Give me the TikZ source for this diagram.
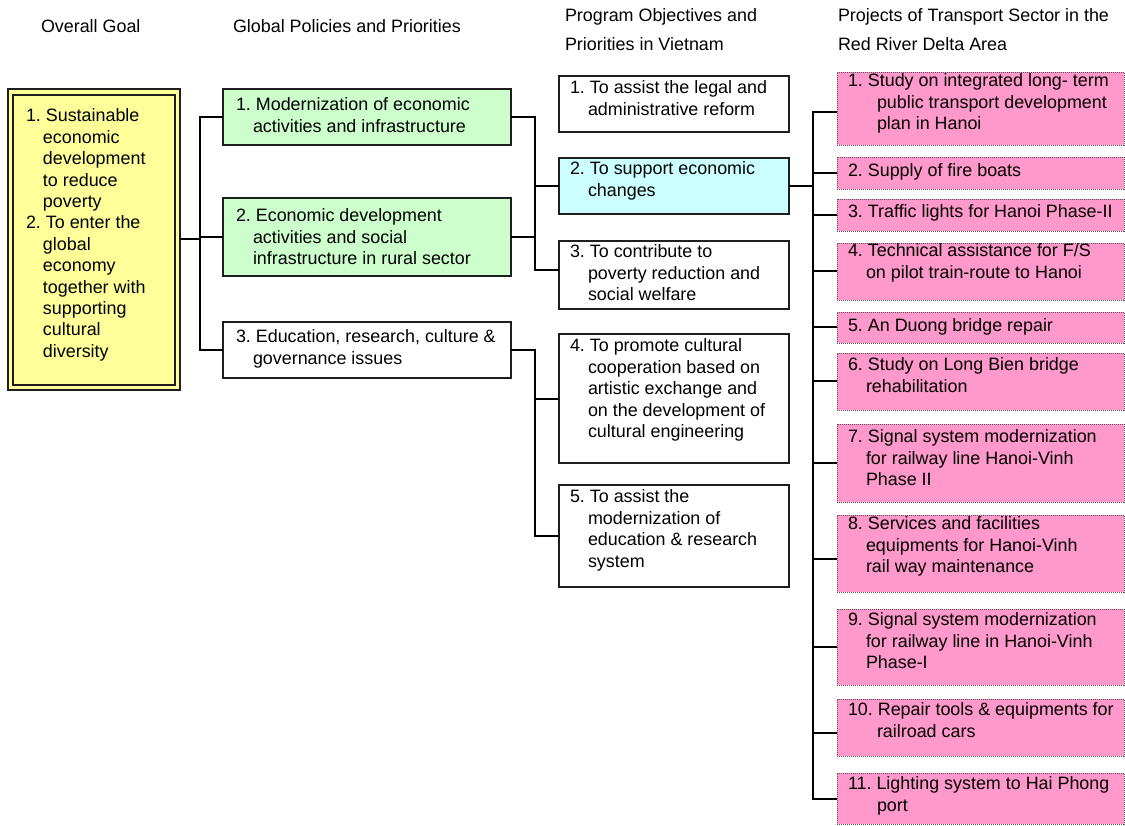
\documentclass[tikz,border=0pt]{standalone}
\usepackage{fontspec}
\setmainfont{Liberation Sans}
\usetikzlibrary{fit}
\definecolor{goalyellow}{RGB}{255,255,153}
\definecolor{polgreen}{RGB}{204,255,204}
\definecolor{objcyan}{RGB}{204,255,255}
\definecolor{projpink}{RGB}{255,153,204}
\definecolor{edgegray}{RGB}{30,30,30}
\definecolor{dotgray}{RGB}{90,80,90}
% hanging indents for continuation lines
\newcommand\indA{\hspace*{17pt}}
\newcommand\indB{\hspace*{18pt}}
\newcommand\indC{\hspace*{29pt}}

\begin{document}
\frenchspacing
\begin{tikzpicture}[x=1pt,y=-1pt,
  every node/.style={inner sep=0pt, outer sep=0pt},
  frame/.style={draw=edgegray, line width=1.3pt},
  policy/.style={frame, fill=polgreen},
  plain/.style={frame, fill=white},
  focus/.style={frame, fill=objcyan},
  project/.style={draw=dotgray, line width=0.8pt, dash pattern=on 1pt off 1pt, fill=projpink},
  txt/.style={anchor=north west, align=left, text=black,
    font=\fontsize{17.9}{21.4}\selectfont\frenchspacing, execute at begin node=\strut},
  conn/.style={draw=black, line width=2pt},
]
\useasboundingbox (0,0) rectangle (1125,826);

% column headings
\node[txt] (h1) at (41,18) {Overall Goal};
\node[txt] (h2) at (233,18) {Global Policies and Priorities};
\node[txt] (h3) at (565,9) {Program Objectives and\\[7.6pt]Priorities in Vietnam};
\node[txt] (h4) at (838,9) {Projects of Transport Sector in the\\[7.6pt]Red River Delta Area};

% overall goal (double frame)
\node[fit={(8,89)(180,390)}, fill=goalyellow, draw=edgegray, line width=2.8pt] (goal) {};
\node[fit={(13,95)(175,385)}, draw=edgegray, line width=1.8pt] (goalin) {};
\node[txt] (goalt) at (26,109) {1. Sustainable\\\indA economic\\\indA development\\\indA to reduce\\\indA poverty\\2. To enter the\\\indA global\\\indA economy\\\indA together with\\\indA supporting\\\indA cultural\\\indA diversity};

% global policies
\node[policy, fit={(223,89)(511,145)}] (g1) {};
\node[policy, fit={(223,198)(511,276)}] (g2) {};
\node[plain, fit={(223,322)(511,378)}] (g3) {};
\node[txt] (g1t) at (236,98) {1. Modernization of economic\\\indA activities and infrastructure};
\node[txt] (g2t) at (236,209) {2. Economic development\\\indA activities and social\\\indA infrastructure in rural sector};
\node[txt] (g3t) at (236,330) {3. Education, research, culture \&\\\indA governance issues};

% program objectives
\node[plain, fit={(559,76)(789,132)}] (o1) {};
\node[focus, fit={(559,158)(789,214)}] (o2) {};
\node[plain, fit={(559,241)(789,309)}] (o3) {};
\node[plain, fit={(559,334)(789,463)}] (o4) {};
\node[plain, fit={(559,485)(789,587)}] (o5) {};
\node[txt] (o1t) at (570,81) {1. To assist the legal and\\\indB administrative reform};
\node[txt] (o2t) at (570,162) {2. To support economic\\\indB changes};
\node[txt] (o3t) at (570,245) {3. To contribute to\\\indB poverty reduction and\\\indB social welfare};
\node[txt] (o4t) at (570,339) {4. To promote cultural\\\indB cooperation based on\\\indB artistic exchange and\\\indB on the development of\\\indB cultural engineering};
\node[txt] (o5t) at (570,490) {5. To assist the\\\indB modernization of\\\indB education \& research\\\indB system};

% transport projects
\node[project, fit={(837,72)(1124,145)}] (p1) {};
\node[project, fit={(837,157)(1124,189)}] (p2) {};
\node[project, fit={(837,199)(1124,231)}] (p3) {};
\node[project, fit={(837,243)(1124,300)}] (p4) {};
\node[project, fit={(837,312)(1124,343)}] (p5) {};
\node[project, fit={(837,353)(1124,410)}] (p6) {};
\node[project, fit={(837,424)(1124,502)}] (p7) {};
\node[project, fit={(837,515)(1124,592)}] (p8) {};
\node[project, fit={(837,609)(1124,685)}] (p9) {};
\node[project, fit={(837,699)(1124,756)}] (p10) {};
\node[project, fit={(837,773)(1124,824)}] (p11) {};
\node[txt] (p1t) at (848,74) {1. Study on integrated long- term\\\indC public transport development\\\indC plan in Hanoi};
\node[txt] (p2t) at (848,162) {2. Supply of fire boats};
\node[txt] (p3t) at (848,203) {3. Traffic lights for Hanoi Phase-II};
\node[txt] (p4t) at (848,244) {4. Technical assistance for F/S\\\indB on pilot train-route to Hanoi};
\node[txt] (p5t) at (848,317) {5. An Duong bridge repair};
\node[txt] (p6t) at (848,358) {6. Study on Long Bien bridge\\\indB rehabilitation};
\node[txt] (p7t) at (848,430) {7. Signal system modernization\\\indB for railway line Hanoi-Vinh\\\indB Phase II};
\node[txt] (p8t) at (848,517) {8. Services and facilities\\\indB equipments for Hanoi-Vinh\\\indB rail way maintenance};
\node[txt] (p9t) at (848,613) {9. Signal system modernization\\\indB for railway line in Hanoi-Vinh\\\indB Phase-I};
\node[txt] (p10t) at (848,703) {10. Repair tools \& equipments for\\\indC railroad cars};
\node[txt] (p11t) at (848,777) {11. Lighting system to Hai Phong\\\indC port};

% bus lines
\coordinate (bus1) at (200,0);
\coordinate (bus2) at (535,0);
\coordinate (bus3) at (813,0);
\coordinate (o3in) at ([yshift=5pt]o3.west);
\coordinate (p1in) at ([yshift=-4pt]p1.west);
\coordinate (p8in) at ([yshift=-5pt]p8.west);
\coordinate (p10in) at ([yshift=-5pt]p10.west);

% goal -> policies
\draw[conn] (goal.east) -- (goal.east -| bus1);
\draw[conn] (g1.west) -- (g1.west -| bus1) -- (g3.west -| bus1) -- (g3.west);
\draw[conn] (g2.west) -- (g2.west -| bus1);

% policies -> objectives
\draw[conn] (g1.east) -- (g1.east -| bus2) -- (o3in -| bus2) -- (o3in);
\draw[conn] (g2.east) -- (g2.east -| bus2);
\draw[conn] (o2.west) -- (o2.west -| bus2);
\draw[conn] (g3.east) -- (g3.east -| bus2) -- (o5.west -| bus2) -- (o5.west);
\draw[conn] (o4.west) -- (o4.west -| bus2);

% objective 2 -> projects
\draw[conn] (o2.east) -- (o2.east -| bus3);
\draw[conn] (p1in) -- (p1in -| bus3) -- (p11.west -| bus3) -- (p11.west);
\foreach \p in {p2,p3,p4,p5,p6,p7,p9}
  \draw[conn] (\p.west) -- (\p.west -| bus3);
\draw[conn] (p8in) -- (p8in -| bus3);
\draw[conn] (p10in) -- (p10in -| bus3);
\end{tikzpicture}
\end{document}
